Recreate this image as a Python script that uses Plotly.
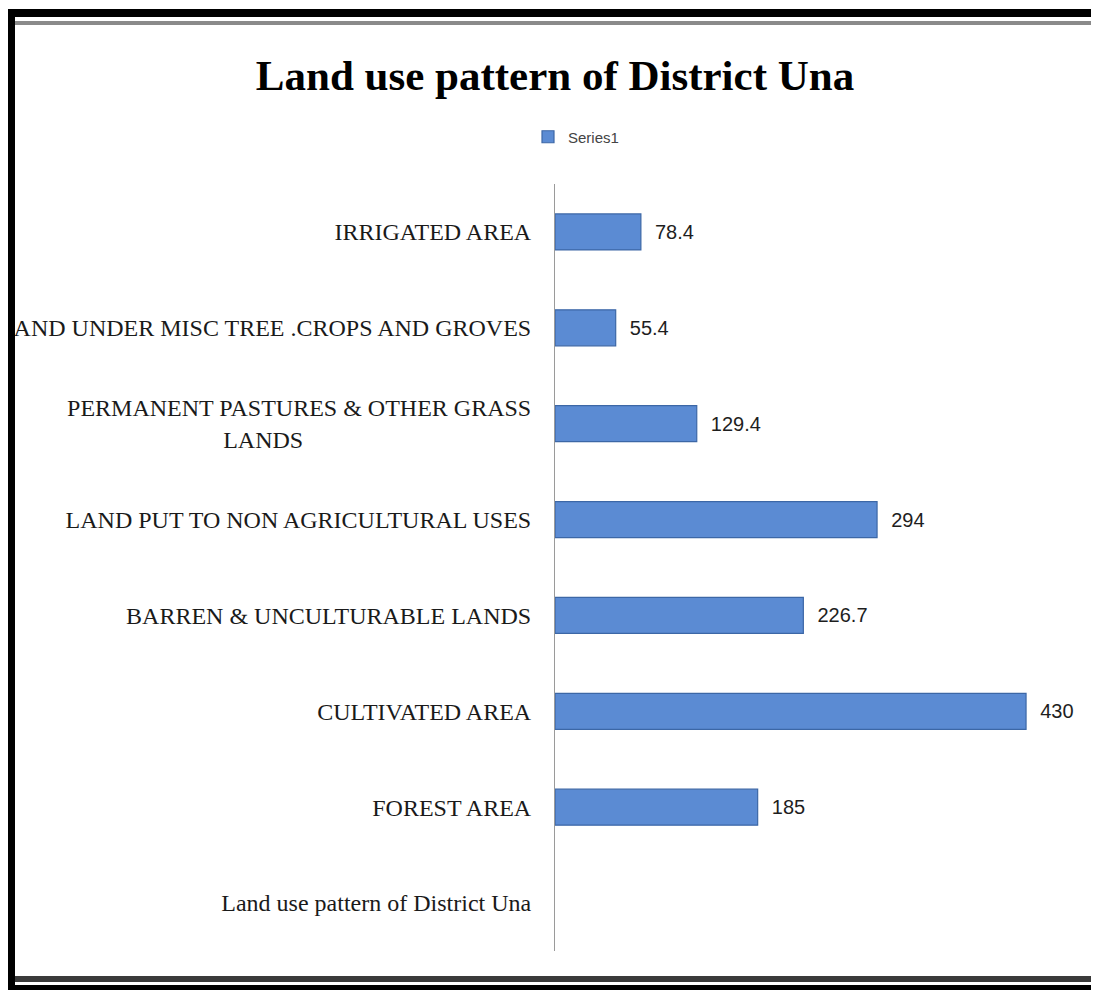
import plotly.graph_objects as go

# ---- data (bottom to top, as plotted) ----
categories = [
    "Land use pattern of District Una",
    "FOREST AREA",
    "CULTIVATED AREA",
    "BARREN & UNCULTURABLE LANDS",
    "LAND PUT TO NON AGRICULTURAL USES",
    "PERMANENT PASTURES & OTHER GRASS LANDS",
    "LAND UNDER MISC TREE .CROPS AND GROVES",
    "IRRIGATED AREA",
]
values = [None, 185, 430, 226.7, 294, 129.4, 55.4, 78.4]
tick_labels = [
    "Land use pattern of District Una",
    "FOREST AREA",
    "CULTIVATED AREA",
    "BARREN & UNCULTURABLE LANDS",
    "LAND PUT TO NON AGRICULTURAL USES",
    "PERMANENT PASTURES & OTHER GRASS<br>LANDS" + "\u00a0" * 38,
    "LAND UNDER MISC TREE .CROPS AND GROVES",
    "IRRIGATED AREA",
]
series_name = "Series1"
title_text = "Land use pattern of District Una"

# page is 1099x990; the html body adds an 8px margin, so the figure sits at (8, 8)
PAGE_W, PAGE_H = 1099, 990
OFF = 8
W, H = PAGE_W - OFF, PAGE_H - OFF
# plot area in page pixels: x 555..1037, y 184..951
PL, PR, PT, PB = 555, 1037, 184, 951
ML, MR, MT, MB = PL - OFF, PAGE_W - PR, PT - OFF, PAGE_H - PB
PW, PH = PR - PL, PB - PT

value_text = ["" if v is None else "\u00a0\u00a0" + f"{v:g}" for v in values]

fig = go.Figure()
fig.add_trace(go.Bar(
    y=categories,
    x=values,
    orientation="h",
    name=series_name,
    marker=dict(color="#5b8bd3", line=dict(color="#3c67a6", width=1.2)),
    text=value_text,
    textposition="outside",
    textfont=dict(family="Liberation Sans", size=20, color="#1e1e1e"),
    cliponaxis=False,
    constraintext="none",
    showlegend=True,
))


def rect(x0, y0, x1, y1, color):
    """Rectangle given in page pixels, converted to paper fractions."""
    return dict(
        type="rect", xref="paper", yref="paper",
        x0=(x0 - PL) / PW, x1=(x1 - PL) / PW,
        y0=(PB - y1) / PH, y1=(PB - y0) / PH,
        fillcolor=color, line=dict(width=0), layer="above",
    )


shapes = [
    rect(7, 9, 15, 990, "black"),          # left frame
    rect(7, 9, 1099, 17, "black"),         # top frame
    rect(15, 21, 1099, 25, "#8a8a8a"),     # grey line under top frame
    rect(15, 976, 1099, 982, "#3a3a3a"),   # bottom dark line
    rect(7, 985, 1099, 990, "black"),      # bottom frame
]

fig.update_layout(
    width=W, height=H,
    margin=dict(l=ML, r=MR, t=MT, b=MB, autoexpand=False),
    paper_bgcolor="white", plot_bgcolor="white",
    bargap=0.625,
    title=dict(
        text=title_text, x=(555 - OFF) / W, xanchor="center", xref="container",
        y=1 - (75 - OFF) / H, yanchor="middle", yref="container",
        font=dict(family="Liberation Serif", size=43, color="black", weight="bold"),
    ),
    legend=dict(
        orientation="h", x=(576 - PL) / PW, xanchor="center",
        y=(PB - 137) / PH, yanchor="middle",
        font=dict(family="Liberation Sans", size=15, color="#444"),
        bgcolor="rgba(0,0,0,0)",
    ),
    xaxis=dict(visible=False, range=[0, 440], showgrid=False, zeroline=False),
    yaxis=dict(
        type="category",
        categoryorder="array", categoryarray=categories,
        tickmode="array", tickvals=categories, ticktext=tick_labels,
        showline=True, linecolor="#9a9a9a", linewidth=1,
        ticks="", showgrid=False, zeroline=False,
        ticklabelstandoff=18,
        tickfont=dict(family="Liberation Serif", size=24, color="#1a1a1a"),
    ),
    shapes=shapes,
)

fig.write_html("out.html")
